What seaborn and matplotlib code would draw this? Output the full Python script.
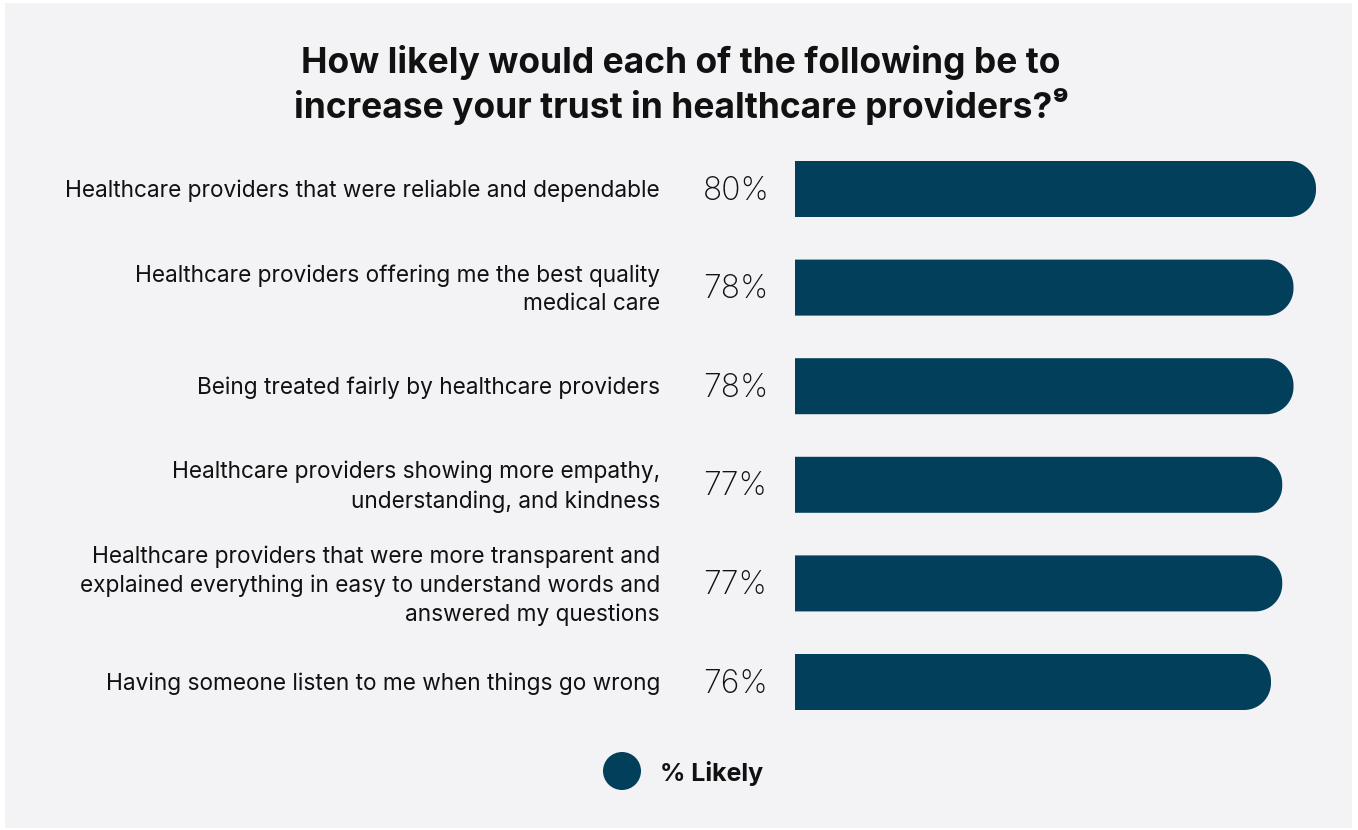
import matplotlib
matplotlib.use("Agg")
import matplotlib.pyplot as plt
import matplotlib.transforms as mtransforms
from matplotlib.patches import Polygon, Rectangle, Ellipse
import numpy as np
import seaborn as sns
import pandas as pd

categories = [
    "Healthcare providers that were reliable and dependable",
    "Healthcare providers offering me the best quality\nmedical care",
    "Being treated fairly by healthcare providers",
    "Healthcare providers showing more empathy,\nunderstanding, and kindness",
    "Healthcare providers that were more transparent and\nexplained everything in easy to understand words and\nanswered my questions",
    "Having someone listen to me when things go wrong",
]
values = [80, 78, 78, 77, 77, 76]
value_labels = ["80%", "78%", "78%", "77%", "77%", "76%"]
legend_label = "% Likely"
title = "How likely would each of the following be to\nincrease your trust in healthcare providers?\u2079"

BAR = "#023f5a"
BG = "#f3f2f4"
TXT = "#111111"
W, H = 1358, 830

sns.set_theme(style="white")
plt.rcParams["font.family"] = ["Inter", "DejaVu Sans"]

fig = plt.figure(figsize=(W / 100, H / 100), dpi=100, facecolor="white")
fig.patches.append(Rectangle((5 / W, 2 / H), (1352 - 5) / W, (828 - 3) / H,
                             transform=fig.transFigure, facecolor=BG,
                             edgecolor="none", zorder=-10))

ax_l, ax_r = 795, 1340
top_px, bot_px = 139.7, 731.3
ax = fig.add_axes([ax_l / W, 1 - bot_px / H, (ax_r - ax_l) / W, (bot_px - top_px) / H])
ax.set_facecolor("none")

df = pd.DataFrame({"category": categories, "value": values})
sns.barplot(data=df, x="value", y="category", orient="h", color=BAR,
            width=0.568, saturation=1, ax=ax, errorbar=None)

ppx = 11.25  # pixels per percent
xmax_v = 80
x0 = xmax_v - (1316 - ax_l) / ppx
x1 = x0 + (ax_r - ax_l) / ppx
ax.set_xlim(x0, x1)
ax.set_ylim(5.5, -0.5)

# replace rectangles with right-rounded bars (single polygon each)
x_per_px = (x1 - x0) / (ax_r - ax_l)
y_per_px = 6.0 / (bot_px - top_px)
r_px = 27
for p in list(ax.patches):
    bx, by = p.get_x(), p.get_y()
    bw, bh = p.get_width(), p.get_height()
    p.set_visible(False)
    rx = r_px * x_per_px
    ry = min(r_px * y_per_px, bh / 2)
    xe = bx + bw
    t1 = np.linspace(-np.pi / 2, 0, 20)
    t2 = np.linspace(0, np.pi / 2, 20)
    ytop, ybot = by, by + bh
    c1 = np.column_stack([xe - rx + rx * np.cos(t1), ytop + ry + ry * np.sin(t1)])
    c2 = np.column_stack([xe - rx + rx * np.cos(t2), ybot - ry + ry * np.sin(t2)])
    pts = np.vstack([[[bx, ytop]], c1, c2, [[bx, ybot]]])
    ax.add_patch(Polygon(pts, closed=True, facecolor=BAR, edgecolor="none", linewidth=0))

ax.set_xlabel("")
ax.set_ylabel("")
ax.set_xticks([])
ax.set_yticks([])
for s in ax.spines.values():
    s.set_visible(False)

shift = mtransforms.ScaledTranslation(0, -2 / 100, fig.dpi_scale_trans)
trans = mtransforms.blended_transform_factory(fig.transFigure, ax.transData) + shift
for i, (cat, lab) in enumerate(zip(categories, value_labels)):
    ax.text(660 / W, i, cat, transform=trans, ha="right", va="center",
            fontsize=16.3, color=TXT, linespacing=1.38)
    ax.text(703 / W, i, lab, transform=trans, ha="left", va="center",
            fontsize=23, fontweight="light", color=TXT)

fig.text(681 / W, 1 - 85 / H, title, ha="center", va="center",
         fontsize=25.5, fontweight="bold", color=TXT, linespacing=1.24)

# legend
fig.patches.append(Ellipse((622 / W, 1 - 771 / H), 38 / W, 38 / H, transform=fig.transFigure,
                           facecolor=BAR, edgecolor="none"))
fig.text(660 / W, 1 - 773 / H, legend_label, ha="left", va="center",
         fontsize=18, fontweight="bold", color=TXT)

fig.savefig("out.png", dpi=100, facecolor="white")
